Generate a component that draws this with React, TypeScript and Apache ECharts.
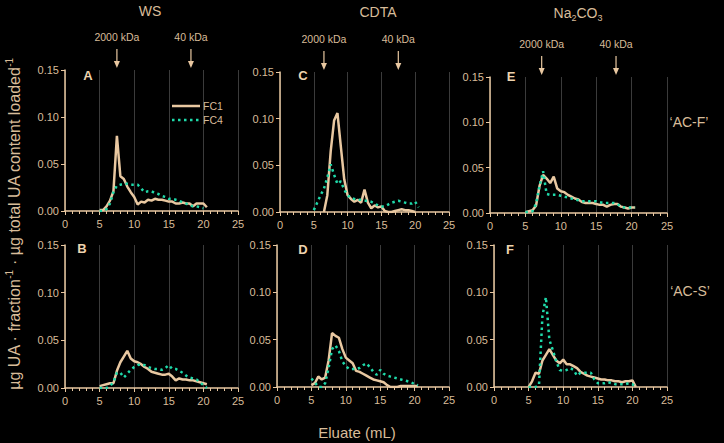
import { useEffect, useRef } from "react";
import * as echarts from "echarts";

// Elution volume (mL) of each fraction
const eluate = [5, 5.5, 6, 6.5, 7, 7.5, 8, 8.5, 9, 9.5, 10, 10.5, 11, 11.5, 12, 12.5, 13, 13.5, 14, 14.5, 15, 15.5, 16, 16.5, 17, 17.5, 18, 18.5, 19, 19.5, 20, 20.5];

// WS, AC-F
const fc1A = [0.001, 0.001, 0.005, 0.011, 0.021, 0.080, 0.037, 0.034, 0.026, 0.020, 0.015, 0.007, 0.010, 0.009, 0.012, 0.011, 0.013, 0.012, 0.012, 0.011, 0.010, 0.010, 0.008, 0.008, 0.009, 0.008, 0.008, 0.005, 0.008, 0.008, 0.008, 0.004];
const fc4A = [0, 0, 0.002, 0.008, 0.020, 0.027, 0.028, 0.029, 0.029, 0.028, 0.028, 0.028, 0.024, 0.020, 0.021, 0.021, 0.019, 0.018, 0.016, 0.015, 0.013, 0.013, 0.012, 0.011, 0.009, 0.008, 0.006, 0.005, 0.005, 0.004, 0.003, null];
// CDTA, AC-F
const fc1C = [null, null, null, 0, 0.018, 0.065, 0.098, 0.106, 0.070, 0.035, 0.018, 0.014, 0.011, 0.013, 0.010, 0.024, 0.010, 0.004, 0.007, 0.005, 0.006, 0.001, 0, 0, 0.001, 0.002, 0.003, 0.002, 0.002, 0.001, 0, null];
const fc4C = [0.002, 0.010, 0.018, 0.025, 0.037, 0.051, 0.040, 0.030, 0.033, 0.024, 0.018, 0.015, 0.014, 0.013, 0.013, 0.012, 0.012, 0.011, 0.009, 0.007, 0.006, 0.006, 0.008, 0.010, 0.011, 0.012, 0.011, 0.010, 0.009, 0.009, 0.011, 0.005];
// Na2CO3, AC-F
const fc1E = [0.001, 0.002, 0.003, 0.008, 0.030, 0.042, 0.038, 0.033, 0.040, 0.027, 0.024, 0.023, 0.020, 0.018, 0.016, 0.015, 0.012, 0.011, 0.011, 0.011, 0.010, 0.009, 0.009, 0.007, 0.009, 0.010, 0.010, 0.007, 0.006, 0.005, 0.006, 0.006];
const fc4E = [0.001, 0.001, 0.002, 0.010, 0.030, 0.046, 0.021, 0.020, 0.020, 0.020, 0.019, 0.018, 0.017, 0.016, 0.015, 0.014, 0.013, 0.013, 0.013, 0.013, 0.013, 0.012, 0.011, 0.011, 0.011, 0.011, 0.010, 0.007, 0.006, 0.006, 0.006, 0.006];
// WS, AC-S
const fc1B = [0.002, 0.003, 0.004, 0.005, 0.005, 0.018, 0.027, 0.033, 0.039, 0.031, 0.028, 0.027, 0.025, 0.022, 0.020, 0.017, 0.016, 0.015, 0.014, 0.014, 0.015, 0.012, 0.008, 0.010, 0.009, 0.009, 0.008, 0.008, 0.007, 0.006, 0.005, 0.004];
const fc4B = [0, 0, 0, 0.002, 0.006, 0.016, 0.016, 0.011, 0.015, 0.019, 0.022, 0.024, 0.025, 0.024, 0.022, 0.021, 0.020, 0.020, 0.019, 0.021, 0.024, 0.020, 0.020, 0.018, 0.016, 0.013, 0.011, 0.010, 0.009, 0.006, 0.003, 0];
// CDTA, AC-S
const fc1D = [0.002, 0.004, 0.011, 0.008, 0.010, 0.028, 0.057, 0.054, 0.052, 0.040, 0.031, 0.028, 0.025, 0.017, 0.016, 0.014, 0.012, 0.010, 0.008, 0.007, 0.006, 0.005, 0.002, 0, 0, 0, 0.001, 0.001, 0.001, 0.001, 0.001, 0.001];
const fc4D = [0.009, 0.005, 0, 0, 0.004, 0.020, 0.040, 0.044, 0.038, 0.027, 0.022, 0.019, 0.019, 0.019, 0.020, 0.023, 0.025, 0.021, 0.016, 0.013, 0.018, 0.014, 0.012, 0.011, 0.010, 0.009, 0.008, 0.007, 0.006, 0.005, 0.003, 0.002];
// Na2CO3, AC-S
const fc1F = [0, 0.006, 0.015, 0.014, 0.028, 0.034, 0.040, 0.034, 0.028, 0.025, 0.029, 0.024, 0.024, 0.022, 0.020, 0.016, 0.014, 0.012, 0.011, 0.010, 0.009, 0.008, 0.008, 0.007, 0.007, 0.006, 0.006, 0.005, 0.006, 0.006, 0.007, 0];
const fc4F = [0, 0, 0, 0.002, 0.075, 0.095, 0.050, 0.039, 0.027, 0.018, 0.017, 0.018, 0.020, 0.018, 0.012, 0.015, 0.015, 0.015, 0.015, 0.008, 0.004, 0.004, 0.004, 0.005, 0.004, 0.003, 0.003, 0.003, 0.003, 0.004, 0.003, 0];

// Molecular-weight markers (mL) for the top row: WS, CDTA, Na2CO3
const marker2000 = [7.5, 6.5, 7.3];
const marker40 = [18.2, 17.5, 17.8];
const markerLabels = ["2000 kDa", "40 kDa"];

const xTicks = { min: 0, max: 25, interval: 5 };
const yTicks = { min: 0, max: 0.15, interval: 0.05 };
const seriesNames = ["FC1", "FC4"];

const TAN = "#E9C8A1";
const TEXT = "#D8BC99";
const TEAL = "#1FD9A9";
const GRIDC = "#3b3b3b";
const FONT = "'Liberation Sans', Arial, sans-serif";
const DOTS = [2.5, 3.5];

const panels = [
  { letter: "A", fc1: fc1A, fc4: fc4A, left: 65, top: 70, width: 173, height: 141, lx: 88, ly: 75 },
  { letter: "C", fc1: fc1C, fc4: fc4C, left: 280, top: 72, width: 169, height: 140, lx: 303, ly: 75 },
  { letter: "E", fc1: fc1E, fc4: fc4E, left: 490, top: 77, width: 177, height: 136, lx: 511, ly: 76 },
  { letter: "B", fc1: fc1B, fc4: fc4B, left: 65, top: 245, width: 173, height: 143, lx: 82, ly: 248 },
  { letter: "D", fc1: fc1D, fc4: fc4D, left: 277, top: 245, width: 172, height: 142, lx: 303, ly: 249 },
  { letter: "F", fc1: fc1F, fc4: fc4F, left: 494, top: 245, width: 173, height: 142, lx: 510, ly: 249 },
];

function pairs(vals: (number | null)[]) {
  const out: [number, number][] = [];
  vals.forEach((v, k) => {
    if (v !== null) out.push([eluate[k], v]);
  });
  return out;
}

function buildOption(): any {
  const grid = panels.map((p) => ({ left: p.left, top: p.top, width: p.width, height: p.height, containLabel: false }));
  const xAxis = panels.map((_, i) => ({
    type: "value",
    gridIndex: i,
    ...xTicks,
    axisLine: { show: true, onZero: false, lineStyle: { color: TAN, width: 1.5 } },
    axisTick: { show: true, length: 4, lineStyle: { color: TAN } },
    minorTick: { show: true, splitNumber: 5, length: 3, lineStyle: { color: TAN } },
    splitLine: { show: true, lineStyle: { color: GRIDC, width: 1 } },
    axisLabel: { color: TEXT, fontSize: 11, fontFamily: FONT, margin: 7 },
  }));
  const yAxis = panels.map((_, i) => ({
    type: "value",
    gridIndex: i,
    ...yTicks,
    axisLine: { show: true, lineStyle: { color: TAN, width: 1.5 } },
    axisTick: { show: true, length: 4, lineStyle: { color: TAN } },
    splitLine: { show: false },
    axisLabel: { color: TEXT, fontSize: 11, fontFamily: FONT, margin: 6, formatter: (v: number) => v.toFixed(2) },
  }));
  const series: any[] = [];
  panels.forEach((p, i) => {
    series.push({
      type: "line",
      name: seriesNames[0],
      xAxisIndex: i,
      yAxisIndex: i,
      data: pairs(p.fc1),
      symbol: "none",
      z: 3,
      itemStyle: { color: TAN },
      lineStyle: { color: TAN, width: 2.5 },
    });
    series.push({
      type: "line",
      name: seriesNames[1],
      xAxisIndex: i,
      yAxisIndex: i,
      data: pairs(p.fc4),
      symbol: "none",
      z: 4,
      itemStyle: { color: TEAL },
      lineStyle: { color: TEAL, width: 2.5, type: DOTS },
    });
  });
  return {
    animation: false,
    backgroundColor: "#000",
    textStyle: { fontFamily: FONT },
    grid,
    xAxis,
    yAxis,
    series,
  };
}

function txt(text: string, x: number, y: number, size: number, extra: any = {}) {
  return {
    type: "text",
    x,
    y,
    silent: true,
    style: { text, fill: TEXT, fontSize: size, fontFamily: FONT, align: "center", verticalAlign: "middle", ...extra },
  };
}

export default function App() {
  const ref = useRef<HTMLDivElement>(null);
  useEffect(() => {
    document.body.style.margin = "0";
    document.body.style.background = "#000";
    const chart = echarts.init(ref.current!, undefined, { renderer: "svg" });
    chart.setOption(buildOption());

    const els: any[] = [];
    // column titles
    els.push(txt("WS", 150, 11, 14));
    els.push(txt("CDTA", 378, 12, 14));
    els.push({
      type: "text",
      x: 578,
      y: 13,
      silent: true,
      style: {
        text: "{n|Na}{s|2}{n|CO}{s|3}",
        align: "center",
        verticalAlign: "middle",
        rich: {
          n: { fill: TEXT, fontSize: 14, fontFamily: FONT, lineHeight: 18, verticalAlign: "middle" },
          s: { fill: TEXT, fontSize: 9, fontFamily: FONT, lineHeight: 18, verticalAlign: "bottom", padding: [6, 0, 0, 0] },
        },
      },
    });
    // molecular-weight arrows
    [0, 1, 2].forEach((i) => {
      [marker2000[i], marker40[i]].forEach((v, j) => {
        const px = chart.convertToPixel({ xAxisIndex: i }, v) as number;
        const base = panels[i].top;
        els.push(txt(markerLabels[j], px, base - 33, 10.5));
        els.push({
          type: "line",
          silent: true,
          shape: { x1: px, y1: base - 21, x2: px, y2: base - 8 },
          style: { stroke: TAN, lineWidth: 1.2 },
        });
        els.push({
          type: "polygon",
          silent: true,
          shape: { points: [[px - 3, base - 9], [px + 3, base - 9], [px, base - 2]] },
          style: { fill: TAN },
        });
      });
    });
    // legend (panel A)
    const lgX = 172;
    [106, 120].forEach((ly, j) => {
      els.push({
        type: "line",
        silent: true,
        shape: { x1: lgX, y1: ly, x2: lgX + 28, y2: ly },
        style: j === 0 ? { stroke: TAN, lineWidth: 2.5 } : { stroke: TEAL, lineWidth: 2.5, lineDash: DOTS },
      });
      els.push(txt(seriesNames[j], lgX + 31, ly, 10.5, { align: "left" }));
    });
    // panel letters
    panels.forEach((p) => {
      els.push(txt(p.letter, p.lx, p.ly, 13, { fontWeight: "bold", fill: "#EED3AE" }));
    });
    els.push(txt("\u2018AC-F\u2019", 689, 122, 14));
    els.push(txt("\u2018AC-S\u2019", 690, 291, 14));
    els.push(txt("Eluate (mL)", 357, 432, 15));
    els.push({
      type: "text",
      x: 14,
      y: 224,
      rotation: Math.PI / 2,
      silent: true,
      style: {
        text: "{n|\u00b5g UA \u00b7 fraction}{s|-1}{n| \u00b7 \u00b5g total UA content loaded}{s|-1}",
        align: "center",
        verticalAlign: "middle",
        rich: {
          n: { fill: TEXT, fontSize: 16, fontFamily: FONT, lineHeight: 20, verticalAlign: "middle" },
          s: { fill: TEXT, fontSize: 10, fontFamily: FONT, lineHeight: 20, verticalAlign: "top", padding: [0, 0, 8, 0] },
        },
      },
    });
    chart.setOption({ graphic: { elements: els } });
    return () => chart.dispose();
  }, []);
  return (
    <div
      ref={ref}
      style={{ position: "fixed", left: 0, top: 0, width: 724, height: 443, background: "#000" }}
    />
  );
}
